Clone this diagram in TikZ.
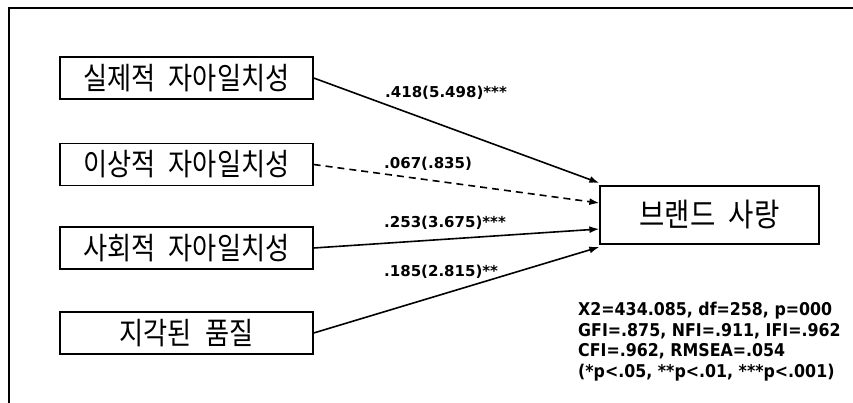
\documentclass[tikz,border=0pt]{standalone}
\usepackage{fontspec}
\usetikzlibrary{arrows.meta}
\newfontfamily\kr{Noto Sans CJK KR}[FakeStretch=0.86,WordSpace=2.2]
\newfontfamily\lab{DejaVu Sans}
\newfontfamily\labn{DejaVu Sans}[FakeStretch=0.9]
\begin{document}
\begin{tikzpicture}[x=1pt,y=-1pt,
  box/.style={draw,line width=1.3pt,inner sep=0pt,minimum width=253pt,minimum height=42pt,font=\kr\fontsize{30.5}{33}\selectfont},
  target/.style={draw,line width=1.3pt,inner sep=0pt,minimum width=219pt,minimum height=58pt,font=\kr\fontsize{32}{34}\selectfont},
  conn/.style={line width=1.6pt,-{Latex[length=10pt,width=7pt]}},
  lbl/.style={anchor=west,inner sep=0pt,font=\lab\bfseries\fontsize{15}{17}\selectfont},
  stats/.style={anchor=north west,inner sep=0pt,align=left,font=\labn\bfseries\fontsize{17.6}{20.7}\selectfont}]
\useasboundingbox (0,0) rectangle (853,403);
\draw[line width=2.2pt] (9,404) -- (9,8) -- (854,8);
\node[box] (b1) at (186.5,78) {실제적 자아일치성};
\node[box] (b2) at (186.5,164.5) {이상적 자아일치성};
\node[box] (b3) at (186.5,248) {사회적 자아일치성};
\node[box] (b4) at (186.5,333) {지각된 품질};
\node[target] (brand) at (709.5,215) {브랜드 사랑};
\draw[conn] (b1.east) -- ([yshift=32pt]brand.west);
\draw[conn,dash pattern=on 7pt off 5pt] (b2.east) -- ([yshift=12pt]brand.west);
\draw[conn] (b3.east) -- ([yshift=-14pt]brand.west);
\draw[conn] (b4.east) -- ([yshift=-32pt]brand.west);
\node[lbl] (l1) at (385,93) {.418(5.498)***};
\node[lbl] (l2) at (384,164) {.067(.835)};
\node[lbl] (l3) at (384,223) {.253(3.675)***};
\node[lbl] (l4) at (384,272) {.185(2.815)**};
\node[stats] (st) at (578,302) {X2=434.085, df=258, p=000\\GFI=.875, NFI=.911, IFI=.962\\CFI=.962, RMSEA=.054\\(*p<.05, **p<.01, ***p<.001)};
\end{tikzpicture}
\end{document}
